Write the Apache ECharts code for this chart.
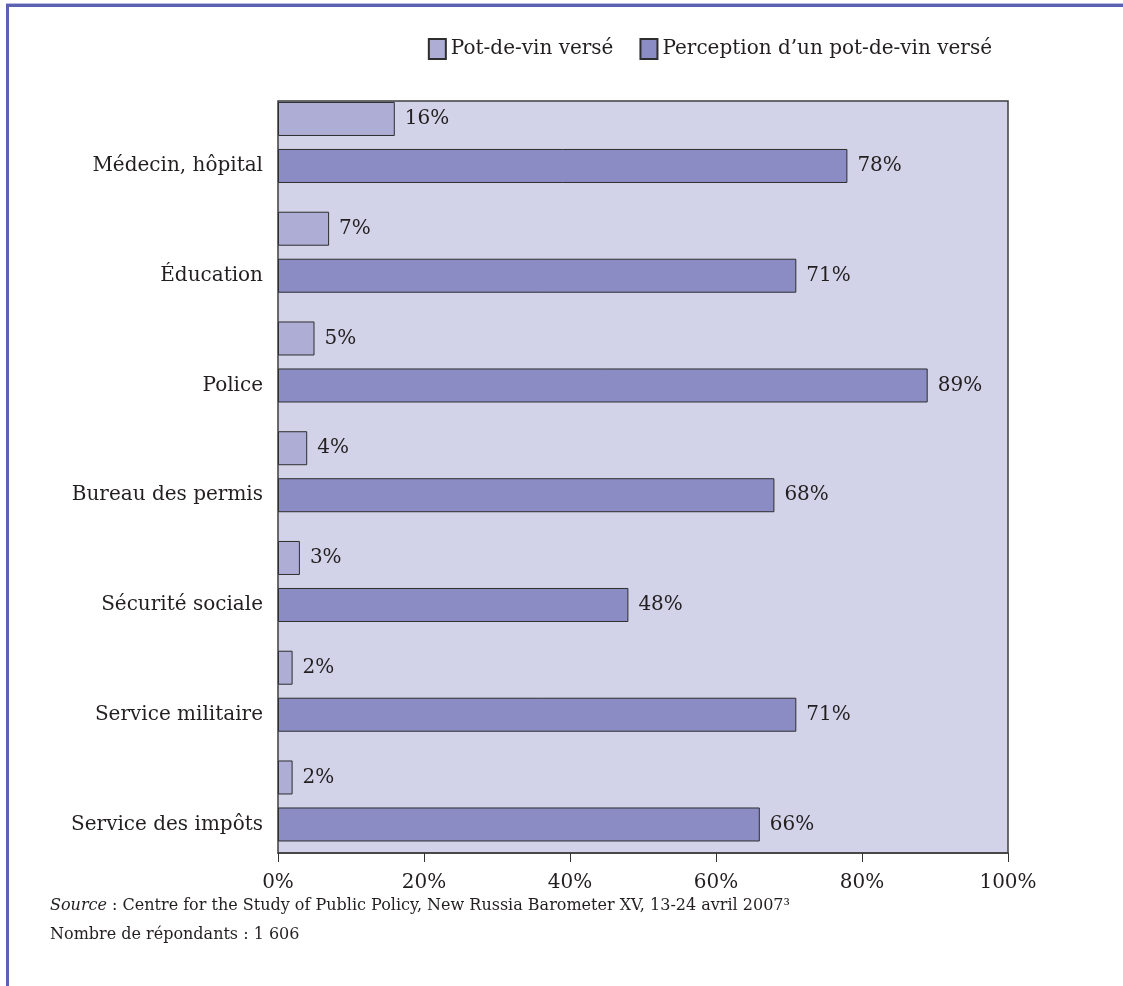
<!DOCTYPE html>
<html lang="fr">
<head>
<meta charset="utf-8">
<title>Pot-de-vin versé et perception</title>
<script src="https://cdn.jsdelivr.net/npm/echarts@6/dist/echarts.min.js"></script>
<style>
  html, body { margin: 0; padding: 0; background: #ffffff; }
  #frame {
    position: absolute; left: 6px; top: 4px; width: 1117px; height: 982px;
    border-top: 3px solid #5c62b3; border-left: 3px solid #5c62b3;
    box-shadow: 0 -1px 0 #b8bce2; box-sizing: border-box;
  }
  #chart { position: absolute; left: 0; top: 0; width: 1123px; height: 986px; }
</style>
</head>
<body>
<div id="frame"></div>
<div id="chart"></div>
<script>
// Services publics interrogés
const categories = [
  'Médecin, hôpital',
  'Éducation',
  'Police',
  'Bureau des permis',
  'Sécurité sociale',
  'Service militaire',
  'Service des impôts'
];
// Part des répondants ayant versé un pot-de-vin (%)
const potDeVinVerse = [16, 7, 5, 4, 3, 2, 2];
// Part des répondants percevant qu'un pot-de-vin est versé (%)
const perception = [78, 71, 89, 68, 48, 71, 66];
// Graduations de l'axe horizontal (%)
const xTicks = [0, 20, 40, 60, 80, 100];

const seriesNames = ['Pot-de-vin versé', "Perception d\u2019un pot-de-vin versé"];
const sourceLine = '{i|Source} : Centre for the Study of Public Policy, New Russia Barometer XV, 13-24 avril 2007\u00b3';
const respondentsLine = 'Nombre de répondants : 1 606';

const FONT = '"DejaVu Serif", "Liberation Serif", serif';
const TEXT = '#231f20';

// band geometry of the bar groups
const BAND_TOP = 87.6;
const BAND_SPAN = 768.25;
const BAR_W = 34;
const BAR_GAP = 13;

const chart = echarts.init(document.getElementById('chart'), null, { renderer: 'canvas' });

const hiddenValueX = (gridIndex) => ({
  gridIndex, type: 'value', min: xTicks[0], max: xTicks[xTicks.length - 1],
  interval: xTicks[1] - xTicks[0], show: false
});

const option = {
  animation: false,
  backgroundColor: 'transparent',
  textStyle: { fontFamily: FONT, color: TEXT },
  legend: {
    data: seriesNames,
    right: 126,
    top: 33,
    icon: 'rect',
    itemWidth: 17,
    itemHeight: 20,
    itemGap: 26,
    textStyle: { fontFamily: FONT, fontSize: 20, color: TEXT }
  },
  grid: [
    // bands used by the bars
    { left: 278, right: 115, top: BAND_TOP, height: BAND_SPAN, show: false },
    // visible plotting frame with the value axis
    { left: 278, right: 115, top: 101, height: 752, show: true,
      backgroundColor: '#d2d2e8', borderColor: '#3f3f3f', borderWidth: 1.5 },
    // category names, level with the second bar of each group
    { left: 278, right: 115, top: BAND_TOP + (BAR_W + BAR_GAP) / 2, height: BAND_SPAN, show: false }
  ],
  xAxis: [
    hiddenValueX(0),
    { gridIndex: 1, type: 'value', min: xTicks[0], max: xTicks[xTicks.length - 1],
      interval: xTicks[1] - xTicks[0],
      axisLine: { show: true, lineStyle: { color: '#3f3f3f', width: 1.5 } },
      axisTick: { show: true, length: 9, lineStyle: { color: '#333', width: 1 } },
      splitLine: { show: false },
      axisLabel: { formatter: '{value}%', margin: 20, fontFamily: FONT, fontSize: 20, color: TEXT } },
    hiddenValueX(2)
  ],
  yAxis: [
    { gridIndex: 0, type: 'category', data: categories, inverse: true, show: false },
    { gridIndex: 1, type: 'value', show: false },
    { gridIndex: 2, type: 'category', data: categories, inverse: true,
      axisLine: { show: false }, axisTick: { show: false }, splitLine: { show: false },
      axisLabel: { margin: 15, fontFamily: FONT, fontSize: 20, color: TEXT } }
  ],
  series: [
    {
      name: seriesNames[0], type: 'bar', xAxisIndex: 0, yAxisIndex: 0,
      data: potDeVinVerse, barWidth: BAR_W, barGap: (BAR_GAP / BAR_W * 100) + '%',
      itemStyle: { color: '#adadd6', borderColor: '#2e2e2e', borderWidth: 1 },
      label: { show: true, position: 'right', distance: 10, formatter: '{c}%',
               fontFamily: FONT, fontSize: 20, color: TEXT }
    },
    {
      name: seriesNames[1], type: 'bar', xAxisIndex: 0, yAxisIndex: 0,
      data: perception, barWidth: BAR_W, barGap: (BAR_GAP / BAR_W * 100) + '%',
      itemStyle: { color: '#8b8cc4', borderColor: '#2e2e2e', borderWidth: 1 },
      label: { show: true, position: 'right', distance: 10, formatter: '{c}%',
               fontFamily: FONT, fontSize: 20, color: TEXT }
    }
  ],
  graphic: [
    { type: 'text', left: 50, top: 898,
      style: { text: sourceLine, font: '16px ' + FONT, fill: TEXT,
               rich: { i: { fontStyle: 'italic', fontFamily: FONT, fontSize: 16, fill: TEXT } } } },
    { type: 'text', left: 50, top: 927,
      style: { text: respondentsLine, font: '16px ' + FONT, fill: TEXT } }
  ]
};

chart.setOption(option);
</script>
</body>
</html>
